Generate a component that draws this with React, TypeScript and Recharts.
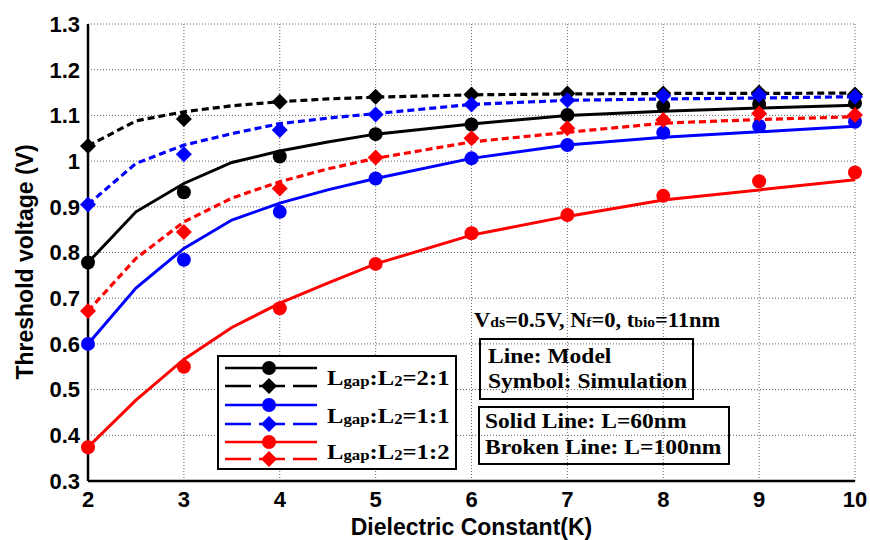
import React from 'react';
import { CartesianGrid, ComposedChart, Line, Scatter, XAxis, YAxis } from 'recharts';

// dielectric constant K
const kModel = [2, 2.5, 3, 3.5, 4, 4.5, 5, 6, 7, 8, 9, 10];
const kSim = [2, 3, 4, 5, 6, 7, 8, 9, 10];

// model (lines), threshold voltage in V
const model21L60 = [0.778, 0.889, 0.951, 0.997, 1.022, 1.042, 1.059, 1.081, 1.1, 1.109, 1.116, 1.122];
const model21L100 = [1.033, 1.088, 1.108, 1.121, 1.13, 1.136, 1.14, 1.145, 1.147, 1.148, 1.148, 1.149];
const model11L60 = [0.6, 0.722, 0.809, 0.871, 0.908, 0.937, 0.962, 1.006, 1.035, 1.052, 1.064, 1.076];
const model11L100 = [0.905, 0.995, 1.035, 1.06, 1.082, 1.094, 1.104, 1.124, 1.133, 1.136, 1.138, 1.141];
const model12L60 = [0.374, 0.477, 0.566, 0.636, 0.689, 0.733, 0.775, 0.838, 0.879, 0.915, 0.937, 0.959];
const model12L100 = [0.672, 0.787, 0.867, 0.919, 0.955, 0.983, 1.006, 1.042, 1.063, 1.083, 1.091, 1.097];

// simulation (symbols)
const sim21L60 = [0.778, 0.932, 1.01, 1.059, 1.08, 1.101, 1.121, 1.125, 1.127];
const sim21L100 = [1.033, 1.092, 1.13, 1.141, 1.146, 1.148, 1.148, 1.15, 1.146];
const sim11L60 = [0.6, 0.784, 0.889, 0.962, 1.006, 1.035, 1.062, 1.077, 1.086];
const sim11L100 = [0.905, 1.015, 1.068, 1.102, 1.124, 1.133, 1.143, 1.145, 1.141];
const sim12L60 = [0.374, 0.55, 0.678, 0.775, 0.842, 0.882, 0.924, 0.956, 0.975];
const sim12L100 = [0.672, 0.845, 0.94, 1.008, 1.05, 1.072, 1.09, 1.104, 1.101];

const xTicks = [2, 3, 4, 5, 6, 7, 8, 9, 10];
const yTicks = [0.3, 0.4, 0.5, 0.6, 0.7, 0.8, 0.9, 1, 1.1, 1.2, 1.3];
const ratioLabels = ['2:1', '1:1', '1:2'];
const colors = ['#000000', '#0000ff', '#ff0000'];

const toPoints = (ks: number[], vs: number[]) => ks.map((k, i) => ({ k, v: vs[i] }));

const groups = [
  { ratio: ratioLabels[0], color: colors[0], solid: model21L60, dashed: model21L100, simSolid: sim21L60, simDashed: sim21L100 },
  { ratio: ratioLabels[1], color: colors[1], solid: model11L60, dashed: model11L100, simSolid: sim11L60, simDashed: sim11L100 },
  { ratio: ratioLabels[2], color: colors[2], solid: model12L60, dashed: model12L100, simSolid: sim12L60, simDashed: sim12L100 },
];

const SANS = '"Liberation Sans", Arial, sans-serif';
const SERIF = '"Liberation Serif", "Times New Roman", serif';
const tickFont = { fill: '#000', fontSize: 22, fontWeight: 'bold', fontFamily: SANS };
const noTick = () => <g />;

const circleShape = (color: string) => (p: any) => <circle cx={p.cx} cy={p.cy} r={7} fill={color} />;
const diamondShape = (color: string) => (p: any) => (
  <polygon
    points={`${p.cx},${p.cy - 8} ${p.cx + 8},${p.cy} ${p.cx},${p.cy + 8} ${p.cx - 8},${p.cy}`}
    fill={color}
  />
);

// serif annotation text, stretched a bit horizontally like the original figure
function SerifText({ x, y, size = 21, children }: { x: number; y: number; size?: number; children: React.ReactNode }) {
  return (
    <text
      transform={`translate(${x} ${y}) scale(1.12 1)`}
      fontFamily={SERIF}
      fontWeight="bold"
      fontSize={size}
      fill="#000"
    >
      {children}
    </text>
  );
}

function Overlay() {
  const rowY = [368, 386, 405, 424, 442, 459];
  return (
    <svg width={870} height={540} style={{ position: 'absolute', left: 0, top: 0, pointerEvents: 'none' }}>
      {/* legend */}
      <rect x={218} y={356} width={238} height={113} fill="#fff" stroke="#000" strokeWidth={2} />
      {groups.map((g, i) => {
        const y1 = rowY[i * 2];
        const y2 = rowY[i * 2 + 1];
        return (
          <g key={g.ratio}>
            <line x1={225} x2={317} y1={y1} y2={y1} stroke={g.color} strokeWidth={2.5} />
            <circle cx={269} cy={y1} r={7} fill={g.color} />
            <line x1={225} x2={317} y1={y2} y2={y2} stroke={g.color} strokeWidth={2.5} strokeDasharray="26 8" />
            <polygon points={`269,${y2 - 8} 277,${y2} 269,${y2 + 8} 261,${y2}`} fill={g.color} />
            <SerifText x={327} y={(y1 + y2) / 2 + 8} size={22}>
              <tspan>L</tspan>
              <tspan fontSize={15} dy={1}>gap</tspan>
              <tspan dy={-1}>:L</tspan>
              <tspan fontSize={15} dy={1}>2</tspan>
              <tspan dy={-1}>={g.ratio}</tspan>
            </SerifText>
          </g>
        );
      })}

      {/* conditions */}
      <SerifText x={474} y={327} size={20}>
        <tspan>V</tspan>
        <tspan fontSize={14}>ds</tspan>
        <tspan>=0.5V, N</tspan>
        <tspan fontSize={14}>f</tspan>
        <tspan>=0, t</tspan>
        <tspan fontSize={14}>bio</tspan>
        <tspan>=11nm</tspan>
      </SerifText>

      <rect x={480} y={339} width={213} height={60} fill="none" stroke="#000" strokeWidth={2} />
      <SerifText x={488} y={363}>Line: Model</SerifText>
      <SerifText x={488} y={388}>Symbol: Simulation</SerifText>

      <rect x={479} y={407} width={250} height={57} fill="none" stroke="#000" strokeWidth={2} />
      <SerifText x={485} y={428}>Solid Line: L=60nm</SerifText>
      <SerifText x={485} y={454}>Broken Line: L=100nm</SerifText>
    </svg>
  );
}

export default function App() {
  return (
    <div style={{ position: 'absolute', left: 0, top: 0, width: 870, height: 540, background: '#fff' }}>
      <ComposedChart width={870} height={540} margin={{ top: 24, right: 15, left: 0, bottom: 0 }}>
        <CartesianGrid strokeDasharray="1 2" stroke="#666" strokeWidth={1} />
        <XAxis
          type="number"
          dataKey="k"
          domain={[2, 10]}
          ticks={xTicks}
          height={59}
          axisLine={{ stroke: '#000', strokeWidth: 2.5 }}
          tickLine={false}
          tickSize={6}
          tickMargin={4}
          tick={tickFont}
          interval={0}
          label={{
            value: 'Dielectric Constant(K)',
            position: 'insideBottom',
            offset: 5,
            style: { fill: '#000', fontSize: 23, fontWeight: 'bold', fontFamily: SANS, textAnchor: 'middle' },
          }}
        />
        <YAxis
          type="number"
          dataKey="v"
          domain={[0.3, 1.3]}
          ticks={yTicks}
          width={88}
          axisLine={{ stroke: '#000', strokeWidth: 2.5 }}
          tickLine={false}
          tickSize={6}
          tickMargin={2}
          tick={tickFont}
          interval={0}
          label={{
            content: () => (
              <text
                x={33}
                y={262}
                transform="rotate(-90 33 262)"
                textAnchor="middle"
                fontSize={23}
                fontWeight="bold"
                fontFamily={SANS}
                fill="#000"
              >
                Threshold voltage (V)
              </text>
            ),
          }}
        />
        {/* inward ticks and the top / right frame */}
        <XAxis xAxisId="bottomTicks" type="number" domain={[2, 10]} ticks={xTicks} orientation="bottom" mirror height={0}
          axisLine={false} tickLine={{ stroke: '#000', strokeWidth: 2 }} tickSize={6} tick={noTick} />
        <XAxis xAxisId="top" type="number" domain={[2, 10]} ticks={xTicks} orientation="top" mirror height={0}
          axisLine={{ stroke: '#000', strokeWidth: 2.5 }} tickLine={{ stroke: '#000', strokeWidth: 2 }} tickSize={6} tick={noTick} />
        <YAxis yAxisId="leftTicks" type="number" domain={[0.3, 1.3]} ticks={yTicks} orientation="left" mirror width={0}
          axisLine={false} tickLine={{ stroke: '#000', strokeWidth: 2 }} tickSize={6} tick={noTick} />
        <YAxis yAxisId="right" type="number" domain={[0.3, 1.3]} ticks={yTicks} orientation="right" mirror width={0}
          axisLine={{ stroke: '#000', strokeWidth: 2.5 }} tickLine={{ stroke: '#000', strokeWidth: 2 }} tickSize={6} tick={noTick} />

        {groups.map((g) => (
          <Line
            key={`m60-${g.ratio}`}
            data={toPoints(kModel, g.solid)}
            dataKey="v"
            type="linear"
            stroke={g.color}
            strokeWidth={3}
            dot={false}
            isAnimationActive={false}
          />
        ))}
        {groups.map((g) => (
          <Line
            key={`m100-${g.ratio}`}
            data={toPoints(kModel, g.dashed)}
            dataKey="v"
            type="linear"
            stroke={g.color}
            strokeWidth={3.2}
            strokeDasharray="7 4"
            dot={false}
            isAnimationActive={false}
          />
        ))}
        {groups.map((g) => (
          <Scatter
            key={`s60-${g.ratio}`}
            data={toPoints(kSim, g.simSolid)}
            dataKey="v"
            fill={g.color}
            shape={circleShape(g.color)}
            isAnimationActive={false}
          />
        ))}
        {groups.map((g) => (
          <Scatter
            key={`s100-${g.ratio}`}
            data={toPoints(kSim, g.simDashed)}
            dataKey="v"
            fill={g.color}
            shape={diamondShape(g.color)}
            isAnimationActive={false}
          />
        ))}
      </ComposedChart>
      <Overlay />
    </div>
  );
}
